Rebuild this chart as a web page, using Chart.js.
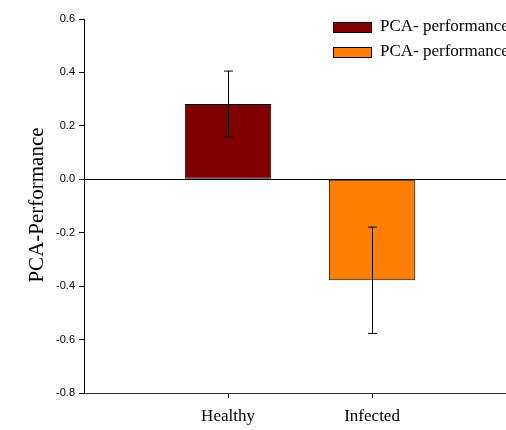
<!DOCTYPE html>
<html>
<head>
<meta charset="utf-8">
<script src="https://cdn.jsdelivr.net/npm/chart.js@4"></script>
<style>
  html, body { margin: 0; padding: 0; background: #fff; }
  #wrap { width: 506px; height: 430px; position: relative; }
</style>
</head>
<body>
<div id="wrap"><canvas id="grafico"></canvas></div>
<script>
// Dados
const categorias = ['Healthy', 'Infected'];
const valores = [0.282, -0.378];
const erros = [0.123, 0.199];
const legendas = ['PCA- performance', 'PCA- performance'];
const cores = ['#800000', '#ff8000'];
const yTicks = [-0.8, -0.6, -0.4, -0.2, 0.0, 0.2, 0.4, 0.6];

const serif = "'Liberation Serif', 'Times New Roman', serif";
const sans = "'Liberation Sans', Arial, sans-serif";

const datasets = categorias.map((c, i) => ({
    label: legendas[i],
    data: [{ x: i + 1, y: valores[i] }],
    backgroundColor: cores[i],
    borderColor: '#000',
    borderWidth: 1,
    borderSkipped: false,
    grouped: false,
    barPercentage: 0.6,
    categoryPercentage: 1
}));

// barras de erro
const errorBars = {
    id: 'errorBars',
    afterDatasetsDraw(chart) {
        const { ctx, scales: { x, y } } = chart;
        ctx.save();
        ctx.strokeStyle = '#000';
        ctx.lineWidth = 1;
        valores.forEach((v, i) => {
            const px = Math.round(x.getPixelForValue(i + 1)) + 0.5;
            const top = y.getPixelForValue(v + erros[i]);
            const bot = y.getPixelForValue(v - erros[i]);
            ctx.beginPath();
            ctx.moveTo(px, top); ctx.lineTo(px, bot);
            ctx.moveTo(px - 4.5, top); ctx.lineTo(px + 4.5, top);
            ctx.moveTo(px - 4.5, bot); ctx.lineTo(px + 4.5, bot);
            ctx.stroke();
        });
        ctx.restore();
    }
};

// legenda e titulo do eixo
const extras = {
    id: 'extras',
    afterDraw(chart) {
        const { ctx } = chart;
        ctx.save();
        ctx.font = '17px ' + serif;
        ctx.textBaseline = 'middle';
        legendas.forEach((txt, i) => {
            const cy = 27 + i * 25;
            ctx.fillStyle = cores[i];
            ctx.fillRect(333, cy - 5, 38, 10);
            ctx.strokeStyle = '#000';
            ctx.lineWidth = 1;
            ctx.strokeRect(333.5, cy - 4.5, 38, 10);
            ctx.fillStyle = '#000';
            ctx.fillText(txt, 380, cy);
        });
        ctx.translate(37, 205);
        ctx.rotate(-Math.PI / 2);
        ctx.textAlign = 'center';
        ctx.font = '21px ' + serif;
        ctx.fillText('PCA-Performance', 0, 0);
        ctx.restore();
    }
};

new Chart(document.getElementById('grafico'), {
    type: 'bar',
    data: { datasets },
    options: {
        responsive: true,
        maintainAspectRatio: false,
        animation: false,
        layout: { padding: { top: 19, right: 0, left: 0, bottom: 0 } },
        plugins: { legend: { display: false }, tooltip: { enabled: false } },
        scales: {
            x: {
                type: 'linear',
                offset: false,
                min: 0,
                max: 2.93,
                afterBuildTicks: s => { s.ticks = categorias.map((c, i) => ({ value: i + 1 })); },
                afterFit: s => { s.height = 37; },
                ticks: {
                    callback: v => categorias[v - 1] || '',
                    color: '#000',
                    font: { family: serif, size: 17 },
                    padding: 8,
                    maxRotation: 0,
                    autoSkip: false
                },
                grid: { offset: false, drawOnChartArea: false, tickLength: 5, tickColor: '#000' },
                border: { color: '#333', width: 1 }
            },
            y: {
                min: -0.8,
                max: 0.6,
                afterBuildTicks: s => { s.ticks = yTicks.map(v => ({ value: v })); },
                afterFit: s => { s.width = 84; },
                ticks: {
                    callback: v => v.toFixed(1),
                    color: '#000',
                    font: { family: sans, size: 11 },
                    padding: 4
                },
                grid: {
                    tickLength: 5,
                    tickColor: '#000',
                    color: c => (c.tick && c.tick.value === 0 ? '#000' : 'rgba(0,0,0,0)')
                },
                border: { color: '#000', width: 1 }
            }
        }
    },
    plugins: [errorBars, extras]
});
</script>
</body>
</html>
